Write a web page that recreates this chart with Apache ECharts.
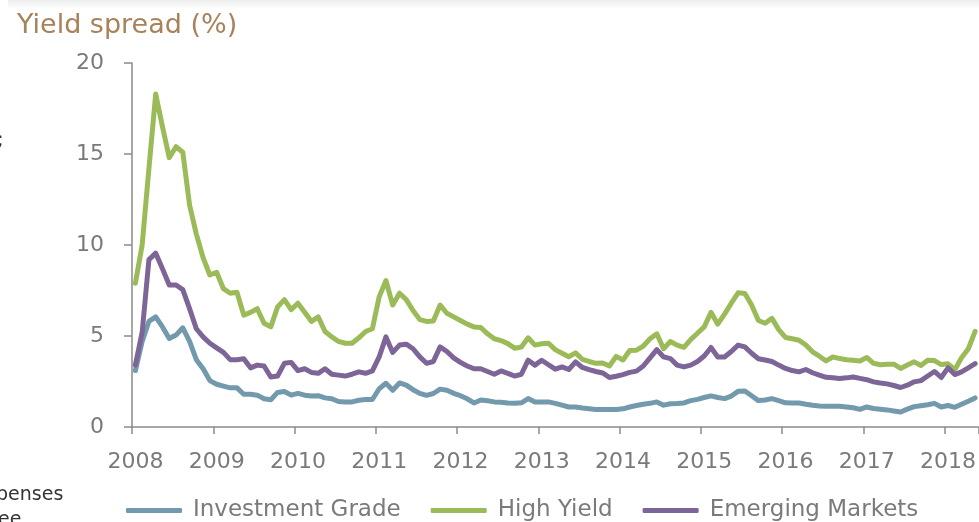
<!DOCTYPE html>
<html>
<head>
<meta charset="utf-8">
<script src="https://cdn.jsdelivr.net/npm/echarts@6/dist/echarts.min.js"></script>
<style>
  html, body { margin: 0; padding: 0; background: #ffffff; }
  #chart { width: 979px; height: 522px; }
</style>
</head>
<body>
<div id="chart"></div>
<script>
// Year labels shown every 12 monthly categories
const yearLabels = ['2008', '2009', '2010', '2011', '2012', '2013', '2014', '2015', '2016', '2017', '2018'];

// Monthly yield spreads (%)
const investmentGrade = [
  3.1, 4.7, 5.8, 6.05, 5.5, 4.86, 5.05, 5.45, 4.7, 3.7,
  3.2, 2.55, 2.35, 2.25, 2.15, 2.15, 1.8, 1.8, 1.75, 1.55,
  1.5, 1.9, 1.95, 1.75, 1.85, 1.75, 1.7, 1.72, 1.6, 1.55,
  1.4, 1.38, 1.38, 1.47, 1.51, 1.51, 2.1, 2.4, 2.02, 2.42,
  2.3, 2.05, 1.85, 1.74, 1.84, 2.08, 2.02, 1.85, 1.72, 1.55,
  1.32, 1.48, 1.44, 1.38, 1.36, 1.32, 1.3, 1.33, 1.56, 1.38,
  1.38, 1.38, 1.3, 1.2, 1.1, 1.1, 1.04, 1.0, 0.96, 0.96,
  0.96, 0.96, 1.0, 1.1, 1.18, 1.25, 1.3, 1.38, 1.2, 1.28,
  1.29, 1.32, 1.45, 1.52, 1.62, 1.71, 1.62, 1.56, 1.7, 1.96,
  1.98, 1.72, 1.45, 1.48, 1.56, 1.45, 1.33, 1.32, 1.32, 1.25,
  1.19, 1.16, 1.14, 1.14, 1.14, 1.1, 1.06, 0.97, 1.1, 1.02,
  0.98, 0.94, 0.88, 0.82, 0.98, 1.12, 1.17, 1.22, 1.3, 1.1,
  1.18, 1.08, 1.25, 1.42, 1.6
];

const highYield = [
  7.9, 10.0, 14.2, 18.3, 16.5, 14.8, 15.4, 15.1, 12.2, 10.6,
  9.3, 8.35, 8.5, 7.6, 7.35, 7.4, 6.15, 6.3, 6.5, 5.7,
  5.5, 6.6, 7.0, 6.45, 6.8, 6.3, 5.8, 6.05, 5.25, 4.95,
  4.7, 4.6, 4.6, 4.9, 5.25, 5.4, 7.15, 8.05, 6.7, 7.35,
  7.0, 6.4, 5.9, 5.8, 5.83, 6.7, 6.25, 6.05, 5.85, 5.65,
  5.5, 5.47, 5.12, 4.85, 4.75, 4.58, 4.33, 4.4, 4.9, 4.5,
  4.57, 4.6, 4.25, 4.05, 3.86, 4.07, 3.72, 3.6, 3.5, 3.52,
  3.35, 3.88, 3.68, 4.2, 4.22, 4.45, 4.85, 5.12, 4.3, 4.7,
  4.5, 4.38, 4.8, 5.15, 5.5, 6.3, 5.65, 6.2, 6.8, 7.37,
  7.34, 6.7, 5.85, 5.7, 5.97, 5.35, 4.92, 4.85, 4.77, 4.5,
  4.13, 3.89, 3.63, 3.85, 3.76, 3.7, 3.67, 3.63, 3.82, 3.5,
  3.42, 3.45, 3.45, 3.22, 3.4, 3.58, 3.38, 3.67, 3.65, 3.43,
  3.47, 3.15, 3.8, 4.3, 5.25
];

const emergingMarkets = [
  3.4, 5.2, 9.2, 9.55, 8.7, 7.8, 7.8, 7.55, 6.5, 5.4,
  4.95, 4.6, 4.35, 4.1, 3.7, 3.7, 3.75, 3.25, 3.4, 3.35,
  2.75, 2.8, 3.5, 3.55, 3.1, 3.2, 3.0, 2.95, 3.2, 2.9,
  2.85, 2.8, 2.9, 3.03, 2.95, 3.08, 3.85, 4.95, 4.1, 4.5,
  4.55, 4.3, 3.85, 3.5, 3.6, 4.4, 4.15, 3.8, 3.55, 3.35,
  3.2, 3.2, 3.05, 2.9, 3.08, 2.95, 2.8, 2.9, 3.67, 3.4,
  3.67, 3.42, 3.18, 3.3, 3.16, 3.58, 3.27, 3.15, 3.05, 2.97,
  2.72, 2.79, 2.88, 3.0, 3.07, 3.35, 3.8, 4.25, 3.85, 3.76,
  3.4, 3.3, 3.4, 3.6, 3.9, 4.37, 3.85, 3.85, 4.15, 4.5,
  4.4, 4.05, 3.75, 3.68, 3.6, 3.4, 3.22, 3.1, 3.03, 3.16,
  2.98, 2.85, 2.73, 2.7, 2.66, 2.7, 2.75, 2.67, 2.6, 2.48,
  2.42, 2.37, 2.28, 2.17, 2.3, 2.48, 2.55, 2.8, 3.05, 2.72,
  3.25, 2.88, 3.03, 3.25, 3.48
];

// One category per month
const months = investmentGrade.map(function (_, i) {
  const m = 8 + i;
  return (2008 + Math.floor(m / 12)) + '-' + String(m % 12 + 1).padStart(2, '0');
});

const FONT = 'Verdana, "DejaVu Sans", sans-serif';
const AXIS_GREY = '#8a8a8a';
const LABEL_GREY = '#7a7a7a';

const chart = echarts.init(document.getElementById('chart'), null, { renderer: 'canvas' });

function lineSeries(name, data, color) {
  return {
    name: name,
    type: 'line',
    data: data,
    symbol: 'none',
    smooth: false,
    lineStyle: { width: 5, color: color, cap: 'round', join: 'round' },
    itemStyle: { color: color },
    emphasis: { disabled: true },
    animation: false
  };
}

chart.setOption({
  backgroundColor: '#ffffff',
  animation: false,
  textStyle: { fontFamily: FONT },
  title: {
    text: 'Yield spread (%)',
    left: 12,
    top: 7,
    textStyle: { fontFamily: FONT, fontSize: 27, fontWeight: 'normal', color: '#a8825a' }
  },
  graphic: [
    {
      type: 'rect',
      shape: { x: 8, y: 0, width: 980, height: 9 },
      style: {
        fill: new echarts.graphic.LinearGradient(0, 0, 0, 1, [
          { offset: 0, color: 'rgba(0,0,0,0.07)' },
          { offset: 1, color: 'rgba(0,0,0,0)' }
        ])
      },
      silent: true
    },
    {
      type: 'text', left: -3, top: 131, silent: true,
      style: { text: ';', font: '20px ' + FONT, fill: '#333333' }
    },
    {
      type: 'text', left: -4, top: 486, silent: true,
      style: { text: 'penses', font: '19px ' + FONT, fill: '#333333' }
    },
    {
      type: 'text', left: -2, top: 511, silent: true,
      style: { text: 'ee', font: '19px ' + FONT, fill: '#333333' }
    }
  ],
  legend: {
    left: 126,
    top: 499,
    padding: 0,
    itemWidth: 56,
    itemHeight: 5,
    itemGap: 30,
    icon: 'roundRect',
    selectedMode: false,
    textStyle: { fontFamily: FONT, fontSize: 23, color: LABEL_GREY, padding: [0, 0, 0, 6] },
    data: ['Investment Grade', 'High Yield', 'Emerging Markets']
  },
  grid: { left: 132, top: 63, width: 847, height: 364, containLabel: false },
  xAxis: {
    type: 'category',
    data: months,
    boundaryGap: true,
    axisLine: { show: true, lineStyle: { color: AXIS_GREY, width: 1.5 } },
    axisTick: {
      show: true,
      length: 7,
      interval: function (idx) { return idx % 12 === 0; },
      lineStyle: { color: AXIS_GREY, width: 1.5 }
    },
    axisLabel: {
      interval: function (idx) { return idx % 12 === 0; },
      formatter: function (v, idx) { return yearLabels[Math.floor(idx / 12)] || ''; },
      margin: 24,
      fontFamily: FONT,
      fontSize: 22,
      color: LABEL_GREY
    },
    splitLine: { show: false }
  },
  yAxis: {
    type: 'value',
    min: 0,
    max: 20,
    interval: 5,
    axisLine: { show: true, lineStyle: { color: AXIS_GREY, width: 1.5 } },
    axisTick: { show: true, length: 8, lineStyle: { color: AXIS_GREY, width: 1.5 } },
    axisLabel: { margin: 28, fontFamily: FONT, fontSize: 22, color: LABEL_GREY },
    splitLine: { show: false }
  },
  series: [
    lineSeries('Investment Grade', investmentGrade, '#7399ad'),
    lineSeries('High Yield', highYield, '#9bbb59'),
    lineSeries('Emerging Markets', emergingMarkets, '#7d6597')
  ]
});
</script>
</body>
</html>
